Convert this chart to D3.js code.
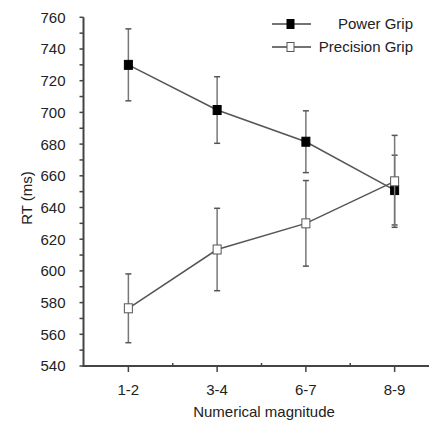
<!DOCTYPE html>
<html><head><meta charset="utf-8">
<script src="https://cdn.jsdelivr.net/npm/d3@7"></script>
<style>body{margin:0;background:#fff}svg{display:block}text{font-family:"Liberation Sans",Arial,sans-serif;fill:#222}</style>
</head><body>
<script>
const categories = ["1-2", "3-4", "6-7", "8-9"];
const powerMean = [730, 701.5, 681.5, 651];
const powerErr = [22.7, 21, 19.5, 22];
const precisionMean = [576.4, 613.5, 630, 656.5];
const precisionErr = [21.7, 26, 27, 29];
const yTicks = [540, 560, 580, 600, 620, 640, 660, 680, 700, 720, 740, 760];
const yMinor = d3.range(540, 761, 10);
const seriesNames = ["Power Grip", "Precision Grip"];

const W = 429, H = 422;
const svg = d3.select("body").append("svg").attr("width", W).attr("height", H);

const x = d3.scaleBand().domain(categories).range([84, 439]).padding(0);
const y = d3.scaleLinear().domain([540, 760]).range([366, 17.3]);
const cx = c => x(c) + x.bandwidth() / 2;

// Y axis
const yAxisG = svg.append("g").attr("transform", "translate(83.5,0)");
yAxisG.append("line").attr("y1", y(760)).attr("y2", y(540) + 1).attr("stroke", "#444").attr("stroke-width", 2);
yAxisG.selectAll("line.minor").data(yMinor).join("line").attr("class", "minor")
  .attr("x1", -4).attr("x2", 0).attr("y1", d => y(d)).attr("y2", d => y(d))
  .attr("stroke", "#444").attr("stroke-width", 1.5);
yAxisG.selectAll("text").data(yTicks).join("text")
  .attr("x", -18).attr("y", d => y(d)).attr("dy", "0.36em")
  .attr("text-anchor", "end").attr("font-size", 15).text(d => d);

// X axis
const xAxisG = svg.append("g").attr("transform", "translate(0,366)");
xAxisG.append("line").attr("x1", 82.5).attr("x2", W).attr("stroke", "#444").attr("stroke-width", 2);
xAxisG.selectAll("line.cat").data(categories).join("line").attr("class", "cat")
  .attr("x1", d => cx(d)).attr("x2", d => cx(d)).attr("y1", 0).attr("y2", 6)
  .attr("stroke", "#444").attr("stroke-width", 1.5);
xAxisG.selectAll("line.sep").data(categories.slice(1)).join("line").attr("class", "sep")
  .attr("x1", d => x(d)).attr("x2", d => x(d)).attr("y1", -3).attr("y2", 1)
  .attr("stroke", "#444").attr("stroke-width", 1.5);
xAxisG.selectAll("text").data(categories).join("text")
  .attr("x", d => cx(d)).attr("y", 29).attr("text-anchor", "middle")
  .attr("font-size", 15).text(d => d);

svg.append("text").attr("x", 264).attr("y", 417).attr("text-anchor", "middle")
  .attr("font-size", 15).text("Numerical magnitude");
svg.append("text").attr("transform", "translate(32,198) rotate(-90)")
  .attr("text-anchor", "middle").attr("font-size", 15).text("RT (ms)");

const series = [
  {name: seriesNames[0], mean: powerMean, err: powerErr, fill: "#000", stroke: "#000"},
  {name: seriesNames[1], mean: precisionMean, err: precisionErr, fill: "#fff", stroke: "#555"}
];

const line = d3.line().x(d => cx(d.c)).y(d => y(d.v));

series.forEach(s => {
  const pts = categories.map((c, i) => ({c, v: s.mean[i], e: s.err[i]}));
  const g = svg.append("g");
  // error bars
  pts.forEach(p => {
    g.append("line").attr("x1", cx(p.c)).attr("x2", cx(p.c))
      .attr("y1", y(p.v + p.e)).attr("y2", y(p.v - p.e))
      .attr("stroke", "#777").attr("stroke-width", 1.5);
    [p.v + p.e, p.v - p.e].forEach(v => {
      g.append("line").attr("x1", cx(p.c) - 3).attr("x2", cx(p.c) + 3)
        .attr("y1", y(v)).attr("y2", y(v)).attr("stroke", "#555").attr("stroke-width", 1.5);
    });
  });
  g.append("path").datum(pts).attr("d", line).attr("fill", "none")
    .attr("stroke", "#555").attr("stroke-width", 1.5);
  s.g = g; s.pts = pts;
});
series.forEach(s => {
  s.g.selectAll("rect").data(s.pts).join("rect")
    .attr("x", d => cx(d.c) - 4).attr("y", d => y(d.v) - 4.5)
    .attr("width", 8).attr("height", 9)
    .attr("fill", s.fill).attr("stroke", s.stroke).attr("stroke-width", 1);
});

// legend
const leg = svg.append("g");
series.forEach((s, i) => {
  const ly = 24 + i * 23;
  leg.append("line").attr("x1", 272).attr("x2", 311).attr("y1", ly).attr("y2", ly)
    .attr("stroke", "#444").attr("stroke-width", 1.5);
  leg.append("rect").attr("x", 287).attr("y", ly - 4.5).attr("width", 7).attr("height", 9)
    .attr("fill", s.fill).attr("stroke", s.stroke).attr("stroke-width", 1);
  leg.append("text").attr("x", 413).attr("y", ly).attr("dy", "0.36em")
    .attr("text-anchor", "end").attr("font-size", 15).text(s.name);
});
</script>
</body></html>
